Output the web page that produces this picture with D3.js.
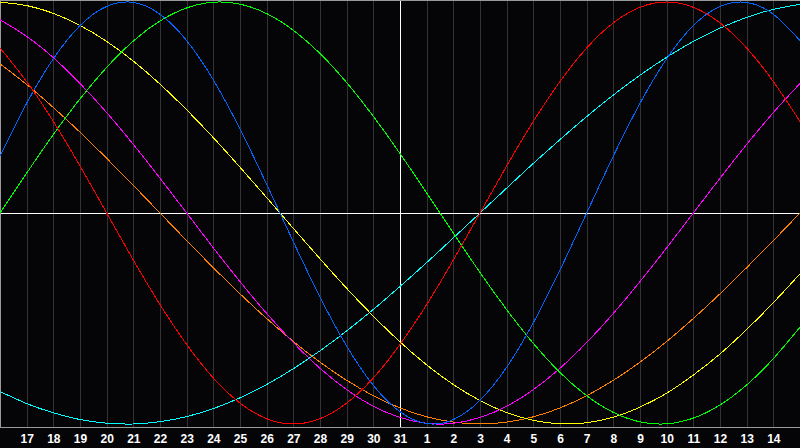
<!DOCTYPE html>
<html>
<head>
<meta charset="utf-8">
<script src="https://cdn.jsdelivr.net/npm/d3@7/dist/d3.min.js"></script>
<style>
html,body{margin:0;padding:0;background:#050508;}
svg{display:block;}
</style>
</head>
<body>
<svg id="chart" width="800" height="448"></svg>
<script>
// Day labels for each day index 0..30
const dayLabels = [16,17,18,19,20,21,22,23,24,25,26,27,28,29,30,31,1,2,3,4,5,6,7,8,9,10,11,12,13,14,15];

// Series values (one per day, -1..1)
const red = [0.782,0.623,0.434,0.223,0,-0.223,-0.434,-0.623,-0.782,-0.901,-0.975,-1,-0.975,-0.901,-0.782,-0.623,-0.434,-0.223,0,0.223,0.434,0.623,0.782,0.901,0.975,1,0.975,0.901,0.782,0.623,0.434];
const blue = [0.270,0.520,0.731,0.888,0.979,0.998,0.942,0.817,0.631,0.398,0.136,-0.136,-0.398,-0.631,-0.817,-0.942,-0.998,-0.979,-0.888,-0.731,-0.520,-0.270,0,0.270,0.520,0.731,0.888,0.979,0.998,0.942,0.817];
const green = [0,0.189,0.372,0.541,0.690,0.815,0.910,0.972,0.999,0.990,0.945,0.866,0.756,0.618,0.458,0.282,0.095,-0.095,-0.282,-0.458,-0.618,-0.756,-0.866,-0.945,-0.990,-0.999,-0.972,-0.910,-0.815,-0.690,-0.541];
const magenta = [0.916,0.837,0.736,0.614,0.476,0.325,0.165,0,-0.165,-0.325,-0.476,-0.614,-0.736,-0.837,-0.916,-0.969,-0.997,-0.997,-0.969,-0.916,-0.837,-0.736,-0.614,-0.476,-0.325,-0.165,0,0.165,0.325,0.476,0.614];
const yellow = [0.999,0.983,0.946,0.889,0.813,0.720,0.611,0.489,0.357,0.217,0.073,-0.073,-0.217,-0.357,-0.489,-0.611,-0.720,-0.813,-0.889,-0.946,-0.983,-0.999,-0.994,-0.968,-0.920,-0.854,-0.768,-0.668,-0.552,-0.425,-0.288];
const orange = [0.707,0.609,0.5,0.383,0.259,0.131,0,-0.131,-0.259,-0.383,-0.5,-0.609,-0.707,-0.793,-0.866,-0.924,-0.966,-0.991,-1,-0.991,-0.966,-0.924,-0.866,-0.793,-0.707,-0.609,-0.5,-0.383,-0.259,-0.131,0];
const cyan = [-0.846,-0.903,-0.947,-0.979,-0.996,-1,-0.989,-0.965,-0.927,-0.876,-0.813,-0.738,-0.653,-0.559,-0.457,-0.348,-0.235,-0.118,0,0.118,0.235,0.348,0.457,0.559,0.653,0.738,0.813,0.876,0.927,0.965,0.989];

const seriesList = [
  {name:"cyan", values:cyan, color:"#00ffff"},
  {name:"orange", values:orange, color:"#ff8000"},
  {name:"yellow", values:yellow, color:"#ffff00"},
  {name:"magenta", values:magenta, color:"#ff00ff"},
  {name:"green", values:green, color:"#00ff00"},
  {name:"blue", values:blue, color:"#0066ff"},
  {name:"red", values:red, color:"#ff0000"}
];

const W = 800, H = 448;
const svg = d3.select("#chart");
svg.append("rect").attr("width",W).attr("height",H).attr("fill","#050508");

const x = d3.scaleLinear().domain([0, dayLabels.length-1]).range([0, 800]);
const y = d3.scaleLinear().domain([-1, 1]).range([424, 2]);
const plotBottom = 427;

// vertical grid lines
const gridDays = d3.range(1, dayLabels.length-1);
svg.append("g").selectAll("line").data(gridDays).join("line")
  .attr("x1", d => Math.round(x(d)) + 0.5).attr("x2", d => Math.round(x(d)) + 0.5)
  .attr("y1", 0).attr("y2", plotBottom)
  .attr("stroke", d => d === 15 ? "#ffffff" : "#333336")
  .attr("stroke-width", 1)
  .attr("shape-rendering","crispEdges");

// horizontal center line
svg.append("line")
  .attr("x1", 0).attr("x2", 800)
  .attr("y1", Math.round(y(0)) + 0.5).attr("y2", Math.round(y(0)) + 0.5)
  .attr("stroke", "#ffffff").attr("shape-rendering","crispEdges");

// redraw center vertical white line on top
svg.append("line")
  .attr("x1", Math.round(x(15)) + 0.5).attr("x2", Math.round(x(15)) + 0.5)
  .attr("y1", 0).attr("y2", plotBottom)
  .attr("stroke", "#ffffff").attr("shape-rendering","crispEdges");

// borders
svg.append("line").attr("x1",0).attr("x2",800).attr("y1",0.5).attr("y2",0.5)
  .attr("stroke","#9a9a9a").attr("shape-rendering","crispEdges");
svg.append("line").attr("x1",0.5).attr("x2",0.5).attr("y1",0).attr("y2",plotBottom)
  .attr("stroke","#9a9a9a").attr("shape-rendering","crispEdges");
svg.append("line").attr("x1",0).attr("x2",800).attr("y1",plotBottom+0.5).attr("y2",plotBottom+0.5)
  .attr("stroke","#9a9a9a").attr("shape-rendering","crispEdges");

// curves
const line = d3.line()
  .x((d,i) => x(i))
  .y(d => y(d))
  .curve(d3.curveNatural);

svg.append("g").selectAll("path").data(seriesList).join("path")
  .attr("d", s => line(s.values))
  .attr("fill","none")
  .attr("stroke", s => s.color)
  .attr("stroke-width", 1)
  .attr("shape-rendering","crispEdges");

// axis labels
const axis = d3.axisBottom(x)
  .tickValues(gridDays)
  .tickFormat(d => dayLabels[d])
  .tickSize(0)
  .tickPadding(0);
const ax = svg.append("g").attr("transform", `translate(0,${plotBottom})`).call(axis);
ax.select(".domain").remove();
ax.selectAll("text")
  .attr("y", 16)
  .attr("dy", 0)
  .attr("fill", "#ffffff")
  .style("font-family", "'Liberation Sans', Arial, sans-serif")
  .style("font-weight", "bold")
  .style("font-size", "12px");
</script>
</body>
</html>
